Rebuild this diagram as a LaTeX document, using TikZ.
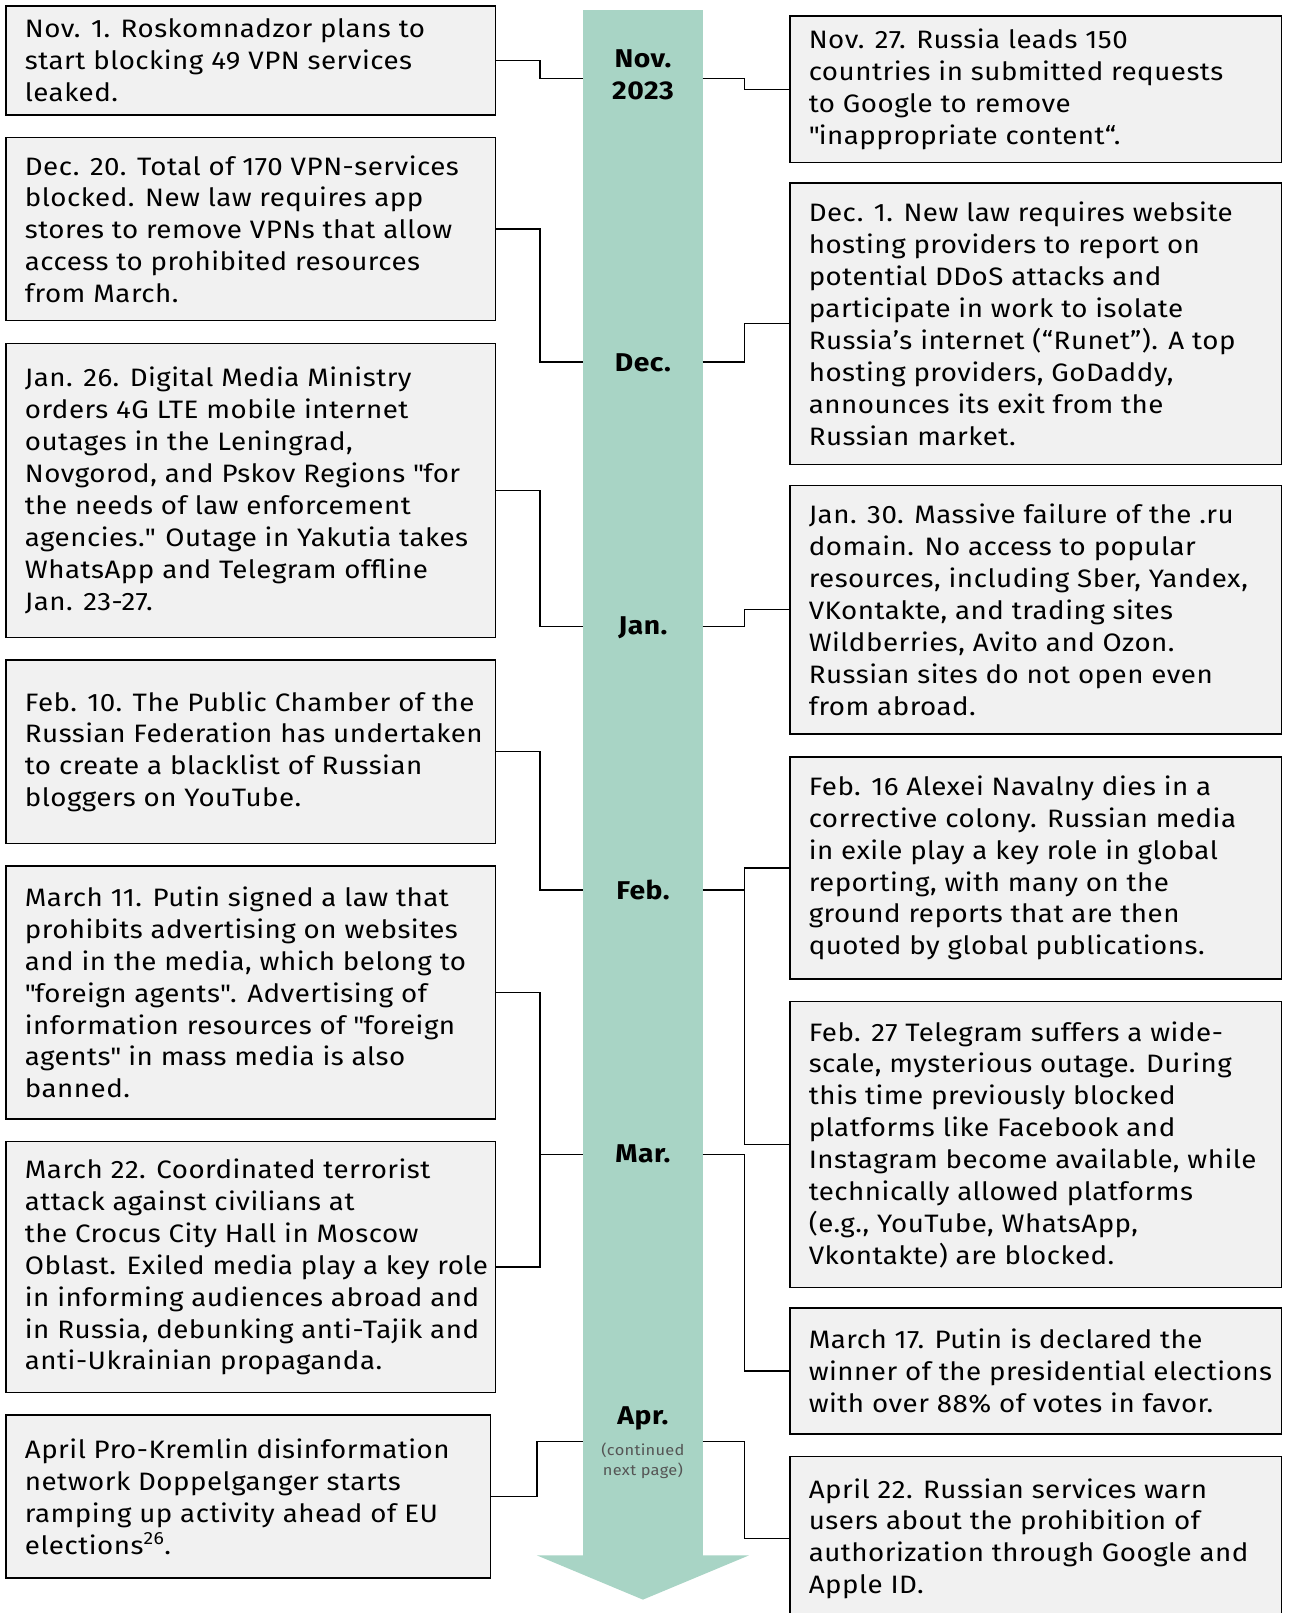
\documentclass[tikz,border=0pt]{standalone}
\usepackage{fontspec}
\setmainfont{Fira Sans}[FakeStretch=1.1, LetterSpace=2]
\definecolor{bargreen}{HTML}{A8D4C5}
\definecolor{boxgray}{HTML}{F1F1F1}
\definecolor{contgray}{HTML}{555555}
\newcommand\evfont{\fontsize{24.5}{31}\selectfont}
\newcommand\sq{\textquotedbl}
\begin{document}
\begin{tikzpicture}[x=1pt,y=-1pt,
  evbox/.style={draw=black, line width=1.5pt, fill=boxgray, inner sep=0pt, anchor=north west},
  lbox/.style={evbox, minimum width=476pt},
  rbox/.style={evbox, minimum width=478pt},
  evtext/.style={anchor=west, align=left, font=\evfont, inner sep=0pt, xshift=19pt},
  month/.style={font=\fontsize{25}{31}\selectfont\bfseries, align=center, inner sep=0pt},
  conn/.style={draw=black, line width=1.3pt},
]
\useasboundingbox (0,0) rectangle (1253,1568);
% timeline bar
\fill[bargreen] (567,10) rectangle (683,1513);
\fill[bargreen] (522,1512) -- (728,1512) -- (625,1555) -- cycle;
% guide coordinates
\coordinate (vl) at (525,0);
\coordinate (vl2) at (522,0);
\coordinate (vr) at (724,0);
\coordinate (novL) at (567,76);   \coordinate (novR) at (683,76);
\coordinate (decL) at (567,352);  \coordinate (decR) at (683,352);
\coordinate (janL) at (567,609);  \coordinate (janR) at (683,609);
\coordinate (febL) at (567,865);  \coordinate (febR) at (683,865);
\coordinate (marL) at (567,1122); \coordinate (marR) at (683,1122);
\coordinate (aprL) at (567,1401); \coordinate (aprR) at (683,1401);
% month labels
\node[month] (mnov) at (625,73) {Nov.\\2023};
\node[month] (mdec) at (625,353) {Dec.};
\node[month] (mjan) at (625,610) {Jan.};
\node[month] (mfeb) at (625,865) {Feb.};
\node[month] (mmar) at (625,1122) {Mar.};
\node[month] (mapr) at (625,1379) {Apr.};
\node[font=\fontsize{14.5}{18.5}\selectfont, text=contgray, align=center, inner sep=0pt] (mcont) at (625,1420) {(continued\\next page)};
% left boxes
\node[lbox, minimum height=106pt] (L1) at (5,5) {};
\node[evtext] (L1t) at (L1.west) {Nov. 1. Roskomnadzor plans to\\start blocking 49 VPN services\\leaked.};
\node[lbox, minimum height=178pt] (L2) at (5,133) {};
\node[evtext] (L2t) at (L2.west) {Dec. 20. Total of 170 VPN-services\\blocked. New law requires app\\stores to remove VPNs that allow\\access to prohibited resources\\from March.};
\node[lbox, minimum height=286pt] (L3) at (5,333) {};
\node[evtext] (L3t) at (L3.west) {Jan. 26. Digital Media Ministry\\orders 4G LTE mobile internet\\outages in the Leningrad,\\Novgorod, and Pskov Regions \sq for\\the needs of law enforcement\\agencies.\sq{} Outage in Yakutia takes\\WhatsApp and Telegram offline\\Jan. 23-27.};
\node[lbox, minimum height=178pt] (L4) at (5,641) {};
\node[evtext] (L4t) at (L4.west) {Feb. 10. The Public Chamber of the\\Russian Federation has undertaken\\to create a blacklist of Russian\\bloggers on YouTube.};
\node[lbox, minimum height=246pt] (L5) at (5,841) {};
\node[evtext] (L5t) at (L5.west) {March 11. Putin signed a law that\\prohibits advertising on websites\\and in the media, which belong to\\\sq foreign agents\sq. Advertising of\\information resources of \sq foreign\\agents\sq{} in mass media is also\\banned.};
\node[lbox, minimum height=244pt] (L6) at (5,1109) {};
\node[evtext] (L6t) at (L6.west) {March 22. Coordinated terrorist\\attack against civilians at\\the Crocus City Hall in Moscow\\Oblast. Exiled media play a key role\\in informing audiences abroad and\\in Russia, debunking anti-Tajik and\\anti-Ukrainian propaganda.};
\node[evbox, minimum width=471pt, minimum height=158pt] (L7) at (5,1375) {};
\node[evtext] (L7t) at (L7.west) {April Pro-Kremlin disinformation\\network Doppelganger starts\\ramping up activity ahead of EU\\elections\textsuperscript{26}.};
% right boxes
\node[rbox, minimum height=142pt] (R1) at (767,15) {};
\node[evtext] (R1t) at (R1.west) {Nov. 27. Russia leads 150\\countries in submitted requests\\to Google to remove\\\sq inappropriate content“.};
\node[rbox, minimum height=274pt] (R2) at (767,177) {};
\node[evtext] (R2t) at (R2.west) {Dec. 1. New law requires website\\hosting providers to report on\\potential DDoS attacks and\\participate in work to isolate\\Russia’s internet (“Runet”). A top\\hosting providers, GoDaddy,\\announces its exit from the\\Russian market.};
\node[rbox, minimum height=242pt] (R3) at (767,471) {};
\node[evtext] (R3t) at (R3.west) {Jan. 30. Massive failure of the .ru\\domain. No access to popular\\resources, including Sber, Yandex,\\VKontakte, and trading sites\\Wildberries, Avito and Ozon.\\Russian sites do not open even\\from abroad.};
\node[rbox, minimum height=216pt] (R4) at (767,735) {};
\node[evtext] (R4t) at (R4.west) {Feb. 16 Alexei Navalny dies in a\\corrective colony. Russian media\\in exile play a key role in global\\reporting, with many on the\\ground reports that are then\\quoted by global publications.};
\node[rbox, minimum height=278pt] (R5) at (767,973) {};
\node[evtext] (R5t) at (R5.west) {Feb. 27 Telegram suffers a wide-\\scale, mysterious outage. During\\this time previously blocked\\platforms like Facebook and\\Instagram become available, while\\technically allowed platforms\\(e.g., YouTube, WhatsApp,\\Vkontakte) are blocked.};
\node[rbox, minimum height=122pt] (R6) at (767,1271) {};
\node[evtext] (R6t) at (R6.west) {March 17. Putin is declared the\\winner of the presidential elections\\with over 88\% of votes in favor.};
\node[rbox, minimum height=160pt] (R7) at (767,1415) {};
\node[evtext] (R7t) at (R7.west) {April 22. Russian services warn\\users about the prohibition of\\authorization through Google and\\Apple ID.};
% left connectors
\draw[conn] (L1.east) -- (L1.east -| vl) |- (novL);
\draw[conn] (L2.east) -- (L2.east -| vl) |- (decL);
\draw[conn] (L3.east) -- (L3.east -| vl) |- (janL);
\draw[conn] (L4.east) -- (L4.east -| vl) |- (febL);
\draw[conn] (L5.east) -- (L5.east -| vl) -- (L6.east -| vl) -- (L6.east);
\draw[conn] (marL -| vl) -- (marL);
\draw[conn] (L7.east) -- (L7.east -| vl2) |- (aprL);
% right connectors
\draw[conn] (novR) -- (novR -| vr) |- (R1.west);
\draw[conn] (decR) -- (decR -| vr) |- (R2.west);
\draw[conn] (janR) -- (janR -| vr) |- (R3.west);
\draw[conn] (R4.west) -- (R4.west -| vr) -- (R5.west -| vr) -- (R5.west);
\draw[conn] (febR) -- (febR -| vr);
\draw[conn] (marR) -- (marR -| vr) |- (R6.west);
\draw[conn] (aprR) -- (aprR -| vr) |- (R7.west);
\end{tikzpicture}
\end{document}
